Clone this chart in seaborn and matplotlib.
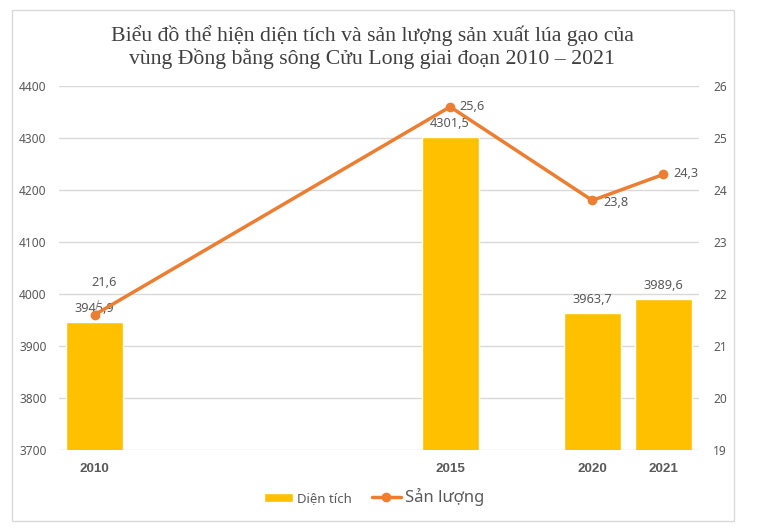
import matplotlib
matplotlib.use("Agg")
import matplotlib.pyplot as plt
import seaborn as sns
import pandas as pd
from matplotlib.patches import Rectangle

years = ["2010", "2015", "2020", "2021"]
slots = [0, 5, 7, 8]          # category slots on a 9-slot text axis
area = [3945.9, 4301.5, 3963.7, 3989.6]
output = [21.6, 25.6, 23.8, 24.3]
area_labels = ["3945,9", "4301,5", "3963,7", "3989,6"]
output_labels = ["21,6", "25,6", "23,8", "24,3"]
left_ticks = [3700, 3800, 3900, 4000, 4100, 4200, 4300, 4400]
right_ticks = [19, 20, 21, 22, 23, 24, 25, 26]
title = ("Biểu đồ thể hiện diện tích và sản lượng sản xuất lúa gạo của\n"
         "vùng Đồng bằng sông Cửu Long giai đoạn 2010 – 2021")

sns.set_theme(style="white")
plt.rcParams['font.family'] = ['Noto Sans', 'DejaVu Sans']

BAR = "#FFC000"
LINE = "#ED7D31"
TXT = "#595959"
GRID = "#D9D9D9"

df = pd.DataFrame({"slot": slots, "area": area, "output": output})

fig = plt.figure(figsize=(7.61, 5.27), dpi=100)
fig.patches.append(Rectangle((12 / 761, 6 / 527), 722 / 761, 511 / 527,
                             transform=fig.transFigure, fill=False,
                             edgecolor="#D9D9D9", linewidth=1))
ax = fig.add_axes([59 / 761, 77 / 527, 640 / 761, 364 / 527])
ax2 = ax.twinx()

sns.barplot(data=df, x="slot", y="area", native_scale=True, color=BAR,
            width=0.8, errorbar=None, ax=ax, label="Diện tích", saturation=1)
sns.lineplot(data=df, x="slot", y="output", ax=ax2, color=LINE, marker="o",
             markersize=7, markeredgewidth=0, linewidth=2.5, label="Sản lượng")

ax.set_xlim(-0.5, 8.5)
ax.set_ylim(3700, 4400)
ax.set_yticks(left_ticks)
ax2.set_ylim(19, 26)
ax2.set_yticks(right_ticks)
ax.set_xticks(slots)
ax.set_xticklabels(years, fontweight="bold", fontsize=9.6, color=TXT,
                   family=["Liberation Sans", "DejaVu Sans"])
ax.set_xlabel("")
ax.set_ylabel("")
ax2.set_ylabel("")
ax.tick_params(axis="x", length=0, pad=9)
ax.tick_params(axis="y", length=0, pad=9, labelsize=8.6, labelcolor=TXT)
ax2.tick_params(axis="y", length=0, pad=10, labelsize=8.6, labelcolor=TXT)
ax.yaxis.grid(True, color=GRID, linewidth=1)
ax.set_axisbelow(True)
for a in (ax, ax2):
    for s in a.spines.values():
        s.set_visible(False)

# bar labels
for x, y, t in zip(slots, area, area_labels):
    ax.annotate(t, (x, y), xytext=(0, 9.7), textcoords="offset points",
                ha="center", va="center", fontsize=9.2, color=TXT)

# line labels
ax2.annotate(output_labels[0], (slots[0], output[0]), xytext=(6.5, 23),
             textcoords="offset points", ha="center", va="center",
             fontsize=9.2, color=TXT,
             arrowprops=dict(arrowstyle="-", color="#A6A6A6", lw=0.8,
                             shrinkA=6, shrinkB=4))
offs = [None, (7, 0.5), (8, -1.5), (7, 0.5)]
for i in range(1, 4):
    ax2.annotate(output_labels[i], (slots[i], output[i]), xytext=offs[i],
                 textcoords="offset points", ha="left", va="center",
                 fontsize=9.2, color=TXT)

if ax2.get_legend():
    ax2.get_legend().remove()
if ax.get_legend():
    ax.get_legend().remove()
h1, l1 = ax.get_legend_handles_labels()
h2, l2 = ax2.get_legend_handles_labels()
leg = fig.legend(h1 + h2, l1 + l2, loc="center", ncol=2, frameon=False,
                 bbox_to_anchor=(374 / 761, 30 / 527), fontsize=9.5,
                 handlelength=2.2, handletextpad=0.3, columnspacing=1.5)
for t in leg.get_texts():
    t.set_color(TXT)
leg.get_texts()[1].set_fontsize(12)

fig.text(372 / 761, (527 - 47) / 527, title, ha="center", va="center",
         fontsize=15.7, family=["Liberation Serif", "DejaVu Serif"],
         color="#404040", linespacing=1.15)

fig.savefig("out.png", dpi=100)
